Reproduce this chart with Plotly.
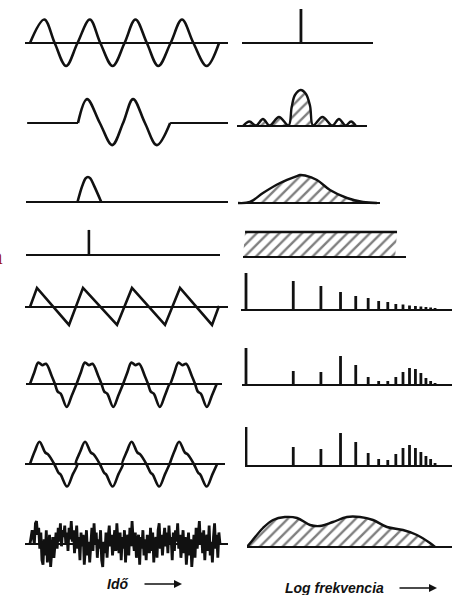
import numpy as np
import plotly.graph_objects as go

# ---------------- DATA ----------------
# Time-domain signals: t in periods of the fundamental, y = relative amplitude
sine_t = [0, 0.3, 0.52, 0.76, 1.0, 1.26, 1.48, 1.74, 1.99, 2.22, 2.46, 2.7, 2.96, 3.2, 3.44, 3.72, 3.98]
sine_y = [0, 1.02, 0, -1.0, 0, 1.02, 0, -1.0, 0, 1.02, 0, -1.0, 0, 1.02, 0, -1.0, 0]

burst_t = [1.01, 1.2, 1.47, 1.73, 1.96, 2.17, 2.42, 2.67, 2.95]
burst_y = [0, 1.04, 0, -0.96, 0, 1.04, 0, -0.96, 0]
burst_lead_t = [-0.06, 1.01]
burst_tail_t = [2.95, 4.17]

pulse_t = [1.0, 1.1, 1.17, 1.22, 1.27, 1.35, 1.5]
pulse_y = [0, 0.7, 1.03, 1.09, 1.03, 0.7, 0]

impulse_t = 1.24
impulse_h = 1.09

saw_t = [0, 0.147, 0.821, 1.116, 1.832, 2.147, 2.842, 3.158, 3.832, 3.98]
saw_y = [0, 0.83, -0.78, 0.83, -0.78, 0.83, -0.78, 0.83, -0.78, 0.05]

harm6_tau = [0, 0.09, 0.175, 0.26, 0.337, 0.457, 0.526, 0.583, 0.646, 0.773, 0.88, 0.98]
harm6_y = [0, 0.5, 0.93, 0.82, 0.88, 0.35, 0.0, -0.33, -0.42, -1.0, -0.5, 0]
harm6_starts = [0, 0.98, 1.96, 2.95]

harm7_tau = [0, 0.1, 0.2, 0.32, 0.38, 0.51, 0.6, 0.645, 0.78, 0.9, 1.0]
harm7_y = [0, 0.55, 0.97, 0.5, 0.42, 0, -0.38, -0.46, -0.98, -0.45, 0]
harm7_starts = [0, 0.96, 1.94, 2.94]

noise_y = [0.0, 0.3, 0.6, 0.3, 0.0, 0.9, 1.0, 0.4, 0.7, -0.2, 0.5, -0.7, -0.9, 0.2, -0.5, 0.6, -0.8, -0.3,
           0.4, -1.0, -0.4, 0.3, -0.6, 0.2, 0.5, -0.2, 0.7, 0.1, 0.9, -0.1, 0.6, 0.3, 0.8, 0.0, 0.5, -0.3,
           0.7, 0.2, 1.0, 0.1, 0.6, -0.4, 0.4, 0.8, -0.2, 0.3, -0.7, 0.5, -0.1, 0.4, -0.9, 0.2, 0.6, -0.5,
           0.1, -0.8, 0.3, 0.7, -0.3, 0.9, 0.0, 0.5, -0.6, 0.2, -0.2, 0.6, -0.7, -1.0, 0.1, -0.4, 0.5, -0.6,
           0.3, 0.8, -0.1, 0.4, -0.5, 0.2, 0.6, -0.3, 0.9, 0.1, -0.4, 0.5, -0.7, 0.3, -0.2, 0.6, -0.8, 0.2,
           0.4, -0.5, 0.7, -0.1, 1.0, 0.2, -0.3, 0.5, -0.6, 0.1, 0.4, -0.9, 0.3, -0.2, 0.6, -0.5, 0.2, -0.7,
           0.4, 0.0, -0.4, 0.7, -0.3, 0.5, -0.8, 0.1, 0.3, -0.6, 0.6, 0.9, -0.2, 0.4, -0.5, 0.2, 0.7, -0.1,
           0.5, -0.4, 0.8, 0.0, 0.3, -0.7, 0.5, -0.3, 0.6, 0.1, 0.9, -0.2, 0.4, -0.6, 0.2, 0.6, -0.4, 0.3,
           -0.9, 0.1, 0.5, -0.5, 0.2, -1.0, -0.3, 0.4, -0.6, 0.7, -0.2, 0.3, 1.0, 0.0, 0.5, -0.4, 0.6, -0.7,
           0.2, 0.4, -0.3, 0.8, -0.5, 0.1, -0.8, 0.3, 0.9, -0.2, 0.4, -0.6, 0.5, 0.0]
noise_span = [0.0, 4.0]

# Spectra: u = log10 frequency (decades), h = spectral amplitude
line1_u = 0.35
line1_h = 34

sinc_u = [-0.019, 0.022, 0.064, 0.108, 0.15, 0.21, 0.271, 0.291, 0.312, 0.348, 0.382, 0.408, 0.427,
          0.487, 0.55, 0.592, 0.634, 0.669, 0.70]
sinc_h = [0, 4.5, 0.5, 7, 0.5, 9, 0.5, 19, 31, 36, 32, 20, 0.5, 9, 0.5, 7, 0.5, 4.5, 0]

gauss_u = [-0.051, 0.025, 0.108, 0.217, 0.325, 0.344, 0.376, 0.452, 0.535, 0.643, 0.745, 0.834]
gauss_h = [0, 1, 10, 20, 27, 28, 27.5, 23, 13, 5, 1, 0]

white_u = [-0.019, -0.006, 0.962, 0.95]
white_h = [0, 25, 25, 0]

harmonics = list(range(1, 17))
saw_spec = [37, 29, 24, 18, 14, 12, 9, 8, 6, 5.5, 4.5, 4, 3.5, 3, 2.5, 2]
harm6_spec = [37, 14, 13, 29, 20, 8, 4, 4, 8, 13, 17, 16, 12, 7, 4, 2]
harm7_spec = [39, 19, 17, 33, 24, 13, 7, 6, 12, 18, 21, 18, 14, 10, 7, 3]

noise_spec_u = [0.006, 0.038, 0.108, 0.172, 0.248, 0.325, 0.408, 0.471, 0.554, 0.643, 0.726, 0.809,
                0.898, 1.0, 1.089, 1.172, 1.204]
noise_spec_h = [0, 6, 19, 27, 30, 29, 22, 21, 25, 30, 30, 27, 20, 17, 12, 4, 0]

time_label = "Idő"
freq_label = "Log frekvencia"

# ---------------- LAYOUT ----------------
W, H = 459, 595
T0, TP = 30.0, 47.5      # time axis: pixel origin, pixels per period
F0, FD = 246.0, 157.0    # log-frequency axis: pixel origin, pixels per decade
AMP = 23.0               # pixels per unit time-domain amplitude

fig = go.Figure()
layout = {}
BLACK = "#111"
LW = 2.6


def ax_names(i):
    s = "" if i == 1 else str(i)
    return "x" + s, "y" + s, "xaxis" + s, "yaxis" + s


def ydomain(base, up, down):
    top = max(base - up, 0)
    bot = min(base + down, H)
    return [1 - bot / H, 1 - top / H], base - top, bot - base


def add_time_panel(i, x0, x1, base, zeroline=True):
    xs, ys, xa, ya = ax_names(i)
    dom, up, down = ydomain(base, 29, 29)
    layout[xa] = dict(domain=[x0 / W, x1 / W], range=[(x0 - T0) / TP, (x1 - T0) / TP],
                      visible=False, anchor=ys, fixedrange=True)
    layout[ya] = dict(domain=dom, range=[-down / AMP, up / AMP], anchor=xs,
                      showgrid=False, showticklabels=False, ticks="", showline=False,
                      zeroline=zeroline, zerolinecolor=BLACK, zerolinewidth=2.2, fixedrange=True)


def add_freq_panel(i, x0, x1, base, log=False):
    xs, ys, xa, ya = ax_names(i)
    dom, up, down = ydomain(base, 44, 4)
    layout[xa] = dict(domain=[x0 / W, x1 / W], range=[(x0 - F0) / FD, (x1 - F0) / FD],
                      type="log" if log else "linear", visible=False,
                      anchor=ys, fixedrange=True)
    layout[ya] = dict(domain=dom, range=[-down, up], anchor=xs,
                      showgrid=False, showticklabels=False, ticks="", showline=False,
                      zeroline=True, zerolinecolor=BLACK, zerolinewidth=2.2, fixedrange=True)


def line(i, x, y, shape="linear", width=LW):
    xs, ys, _, _ = ax_names(i)
    fig.add_trace(go.Scatter(x=x, y=y, mode="lines", xaxis=xs, yaxis=ys,
                             line=dict(color=BLACK, width=width, shape=shape),
                             hoverinfo="skip", showlegend=False, cliponaxis=False))


hatch = dict(shape="/", size=8, solidity=0.3, fgcolor="#000", bgcolor="rgba(0,0,0,0)")


def hatched(i, x, y, shape="spline", width=2.4, fill="tozeroy"):
    xs, ys, _, _ = ax_names(i)
    fig.add_trace(go.Scatter(x=x, y=y, mode="lines", xaxis=xs, yaxis=ys, fill=fill,
                             fillcolor="rgba(0,0,0,0)", fillpattern=hatch,
                             line=dict(color=BLACK, width=width, shape=shape),
                             hoverinfo="skip", showlegend=False))


def stems(i, xs_, hs, width=2.8):
    xx, yy = [], []
    for xv, hv in zip(xs_, hs):
        xx += [xv, xv, None]
        yy += [0, hv, None]
    line(i, xx, yy, width=width)


# --- time domain column ---
add_time_panel(1, 25, 228, 43)
line(1, sine_t, sine_y, shape="spline")

add_time_panel(2, 27, 228, 123, zeroline=False)
line(2, burst_lead_t, [0, 0], width=2.2)
line(2, burst_tail_t, [0, 0], width=2.2)
line(2, burst_t, burst_y, shape="spline")

add_time_panel(3, 26, 228, 202)
line(3, pulse_t, pulse_y, shape="spline")

add_time_panel(4, 26, 220, 255)
line(4, [impulse_t, impulse_t], [0, impulse_h], width=2.6)

add_time_panel(5, 25, 228, 307)
line(5, saw_t, saw_y)

add_time_panel(6, 26, 222, 384)
t6, y6 = [], []
for s in harm6_starts:
    t6 += [s + v for v in harm6_tau]
    y6 += harm6_y
line(6, t6, y6, shape="spline")

add_time_panel(7, 25, 225, 464)
t7, y7 = [], []
for s in harm7_starts:
    t7 += [s + v for v in harm7_tau]
    y7 += harm7_y
line(7, t7, y7, shape="spline")

add_time_panel(8, 25, 228, 544)
noise_t = np.linspace(noise_span[0], noise_span[1], len(noise_y))
line(8, noise_t, noise_y, width=2.8)

# --- frequency column ---
add_freq_panel(9, 242, 373, 43)
line(9, [line1_u, line1_u], [0, line1_h], width=2.8)

add_freq_panel(10, 237, 367, 126)
hatched(10, sinc_u, sinc_h)

add_freq_panel(11, 238, 380, 203)
hatched(11, gauss_u, gauss_h)

add_freq_panel(12, 243, 406, 257)
hatched(12, white_u, white_h, shape="linear", width=0, fill="toself")
line(12, white_u[1:3], white_h[1:3], width=2.4)

add_freq_panel(13, 241, 452, 310, log=True)
stems(13, harmonics, saw_spec)

add_freq_panel(14, 242, 452, 385, log=True)
stems(14, harmonics, harm6_spec)

add_freq_panel(15, 245, 452, 466, log=True)
stems(15, harmonics, harm7_spec)

add_freq_panel(16, 247, 452, 547)
hatched(16, noise_spec_u, noise_spec_h)

# --- labels ---
lab_font = dict(family="Liberation Sans, Arial, sans-serif", size=14, color=BLACK)
annotations = [
    dict(x=105 / W, y=1 - 584 / H, xref="paper", yref="paper", text="<b><i>" + time_label + "</i></b>",
         xanchor="left", yanchor="middle", showarrow=False, font=lab_font),
    dict(x=182 / W, y=1 - 584 / H, xref="paper", yref="paper", text="", showarrow=True,
         ax=-39, ay=0, arrowhead=2, arrowsize=1, arrowwidth=1.6, arrowcolor=BLACK),
    dict(x=386 / W, y=1 - 588 / H, xref="paper", yref="paper", text="<b><i>" + freq_label + "</i></b>",
         xanchor="right", yanchor="middle", showarrow=False, font=lab_font),
    dict(x=437 / W, y=1 - 588 / H, xref="paper", yref="paper", text="", showarrow=True,
         ax=-39, ay=0, arrowhead=2, arrowsize=1, arrowwidth=1.6, arrowcolor=BLACK),
    dict(x=5 / W, y=1 - 256 / H, xref="paper", yref="paper", text="a", xanchor="right",
         yanchor="middle", showarrow=False,
         font=dict(family="Liberation Serif, serif", size=24, color="#a01818")),
]

fig.update_layout(width=W, height=H, margin=dict(l=0, r=0, t=0, b=0),
                  paper_bgcolor="white", plot_bgcolor="rgba(0,0,0,0)",
                  showlegend=False, annotations=annotations, **layout)

fig.write_html("out.html", config={"displayModeBar": False, "staticPlot": True},
               post_script="document.body.style.margin='0';document.body.style.overflow='hidden';")
